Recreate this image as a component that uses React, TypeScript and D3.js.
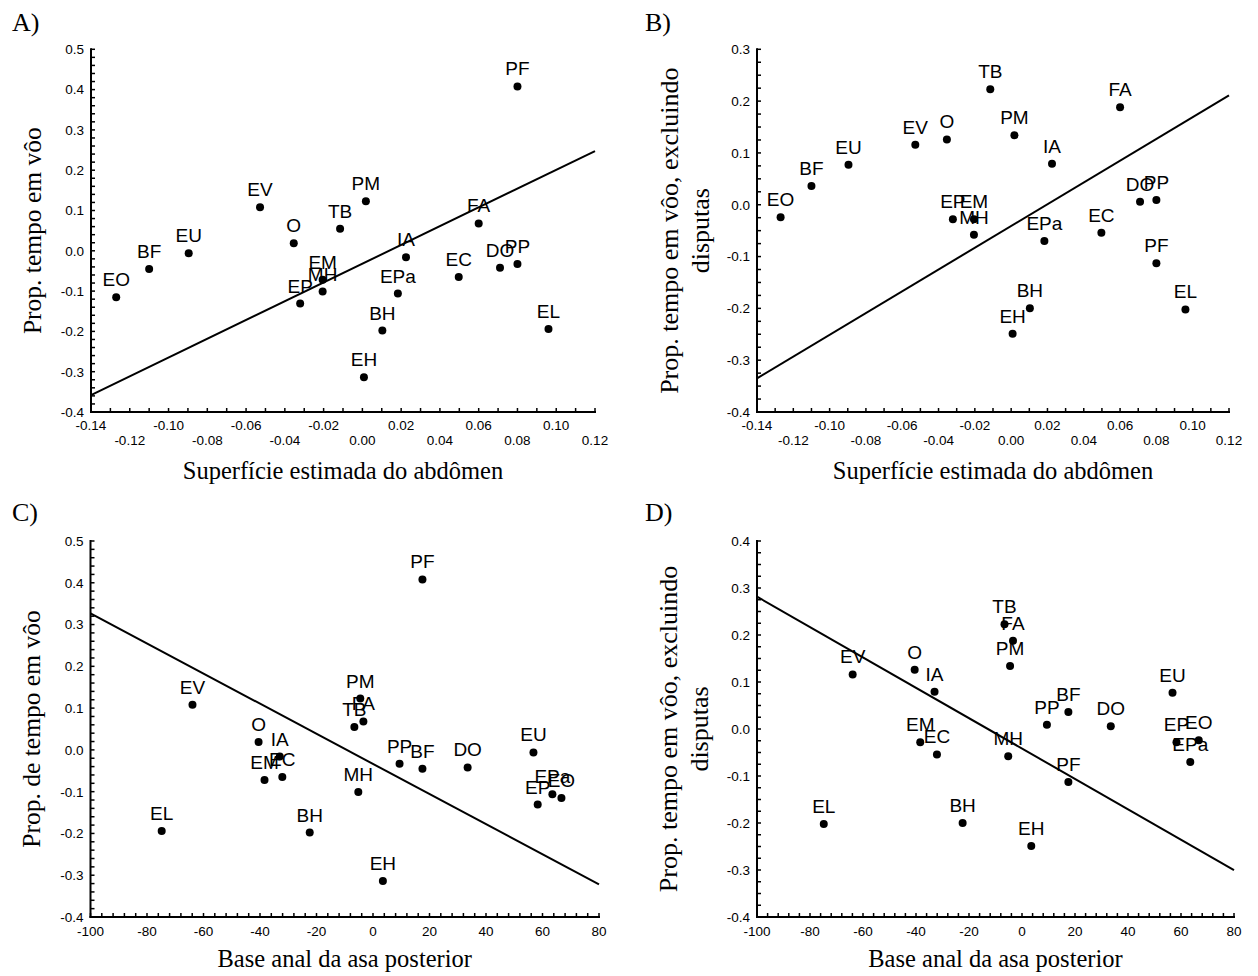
import React from 'react';
import * as d3 from 'd3';

// ---------------- data ----------------
const species = ['EO', 'BF', 'EU', 'EV', 'O', 'EP', 'EM', 'MH', 'PF', 'PM', 'TB', 'IA', 'FA', 'EC', 'DO', 'PP', 'EPa', 'BH', 'EH', 'EL'];
// Superfície estimada do abdômen (x of A, B)
const abdomen = [-0.127, -0.110, -0.0896, -0.0528, -0.0354, -0.0321, -0.0205, -0.0205, 0.080, 0.0018, -0.0115, 0.0225, 0.060, 0.0497, 0.071, 0.080, 0.0183, 0.0103, 0.0008, 0.096];
// Base anal da asa posterior (x of C, D)
const analBase = [66.7, 17.5, 56.8, -63.9, -40.5, 58.3, -38.4, -5.2, 17.5, -4.5, -6.6, -33.0, -3.4, -32.1, 33.5, 9.4, 63.5, -22.4, 3.5, -74.8];
// Prop. tempo em vôo (y of A, C)
const propFlight = [-0.115, -0.045, -0.006, 0.108, 0.019, -0.131, -0.072, -0.101, 0.408, 0.123, 0.055, -0.016, 0.068, -0.065, -0.042, -0.033, -0.106, -0.198, -0.314, -0.194];
// Prop. tempo em vôo, excluindo disputas (y of B, D)
const propFlightExcl = [-0.024, 0.036, 0.077, 0.116, 0.126, -0.028, -0.028, -0.058, -0.113, 0.134, 0.223, 0.079, 0.188, -0.054, 0.006, 0.009, -0.070, -0.200, -0.249, -0.202];

// fitted regression lines (A, B, C, D)
const fitIntercept = [-0.032, -0.041, -0.0336, -0.0416];
const fitSlope = [2.329, 2.1, -0.003606, -0.003231];

// tick labels
const abdTicks = [-0.14, -0.12, -0.10, -0.08, -0.06, -0.04, -0.02, 0.0, 0.02, 0.04, 0.06, 0.08, 0.10, 0.12];
const analTicks = [-100, -80, -60, -40, -20, 0, 20, 40, 60, 80];
const yTicksAC = [-0.4, -0.3, -0.2, -0.1, 0.0, 0.1, 0.2, 0.3, 0.4, 0.5];
const yTicksB = [-0.4, -0.3, -0.2, -0.1, 0.0, 0.1, 0.2, 0.3];
const yTicksD = [-0.4, -0.3, -0.2, -0.1, 0.0, 0.1, 0.2, 0.3, 0.4];

const titleA = 'Superfície estimada do abdômen';
const titleC = 'Base anal da asa posterior';
const yTitle1 = ['Prop. tempo em vôo'];
const yTitle2 = ['Prop. tempo em vôo, excluindo', 'disputas'];
const yTitle3 = ['Prop. de tempo em vôo'];

const SANS = "Arial, 'Liberation Sans', sans-serif";
const SERIF = "'Times New Roman', 'Liberation Serif', serif";

type Cfg = {
  letter: string;
  letterX: number;
  letterY: number;
  xs: number[];
  ys: number[];
  xDomain: [number, number];
  xRange: [number, number];
  yDomain: [number, number];
  yRange: [number, number];
  xTicks: number[];
  xDec: number;
  xMinorStep: number;
  twoRows: boolean;
  yTicks: number[];
  yMinorStep: number;
  xTitle: string;
  xTitleY: number;
  yTitle: string[];
  yTitleX: number;
  fit: number;
};

function fmt(v: number, dec: number) {
  const r = Math.round(v * 1e6) / 1e6;
  return (r === 0 ? 0 : r).toFixed(dec);
}

function Panel({ c }: { c: Cfg }) {
  const x = d3.scaleLinear().domain(c.xDomain).range(c.xRange);
  const y = d3.scaleLinear().domain(c.yDomain).range(c.yRange);
  const x0 = c.xRange[0];
  const y0 = c.yRange[0];
  const nX = Math.round((c.xDomain[1] - c.xDomain[0]) / c.xMinorStep);
  const xMinor = d3.range(nX + 1).map((i) => c.xDomain[0] + i * c.xMinorStep);
  const nY = Math.round((c.yDomain[1] - c.yDomain[0]) / c.yMinorStep);
  const yMinor = d3.range(nY + 1).map((i) => c.yDomain[0] + i * c.yMinorStep);
  const line = d3.line<number>().x((d) => x(d)).y((d) => y(fitIntercept[c.fit] + fitSlope[c.fit] * d));
  const cx = (c.xRange[0] + c.xRange[1]) / 2;
  const cy = (c.yRange[0] + c.yRange[1]) / 2;
  return (
    <g>
      <text x={c.letterX} y={c.letterY} fontFamily={SERIF} fontSize={26} fill="#000">{c.letter}</text>
      {/* axes */}
      <line x1={x0} x2={x0} y1={c.yRange[1] - 1} y2={y0 + 1} stroke="#000" strokeWidth={2} />
      <line x1={x0 - 1} x2={c.xRange[1] + 1} y1={y0} y2={y0} stroke="#000" strokeWidth={2} />
      {xMinor.map((v, i) => (
        <line key={'xm' + i} x1={x(v)} x2={x(v)} y1={y0} y2={y0 - 4} stroke="#000" strokeWidth={1.5} />
      ))}
      {yMinor.map((v, i) => (
        <line key={'ym' + i} x1={x0} x2={x0 + 4} y1={y(v)} y2={y(v)} stroke="#000" strokeWidth={1.5} />
      ))}
      {c.xTicks.map((v, i) => (
        <text key={'xt' + i} x={x(v)} y={c.twoRows ? (i % 2 === 0 ? y0 + 18 : y0 + 33) : y0 + 19}
          textAnchor="middle" fontFamily={SANS} fontSize={13.5} fill="#000">{fmt(v, c.xDec)}</text>
      ))}
      {c.yTicks.map((v, i) => (
        <text key={'yt' + i} x={x0 - 7} y={y(v)} dy="0.36em" textAnchor="end"
          fontFamily={SANS} fontSize={13.5} fill="#000">{fmt(v, 1)}</text>
      ))}
      {/* regression line */}
      <path d={line(c.xDomain) || ''} fill="none" stroke="#000" strokeWidth={2} />
      {/* points */}
      {species.map((s, i) => (
        <circle key={'p' + i} cx={x(c.xs[i])} cy={y(c.ys[i])} r={4} fill="#000" />
      ))}
      {species.map((s, i) => (
        <text key={'l' + i} x={x(c.xs[i])} y={y(c.ys[i]) - 11} textAnchor="middle"
          fontFamily={SANS} fontSize={19} fill="#000">{s}</text>
      ))}
      {/* titles */}
      <text x={cx} y={c.xTitleY} textAnchor="middle" fontFamily={SERIF} fontSize={24.5} fill="#000">{c.xTitle}</text>
      {c.yTitle.map((t, i) => (
        <text key={'ytl' + i} transform="rotate(-90)" x={-cy} y={c.yTitleX + i * 31}
          textAnchor="middle" fontFamily={SERIF} fontSize={c.yTitle.length > 1 ? 26 : 25.5} fill="#000">{t}</text>
      ))}
    </g>
  );
}

const panels: Cfg[] = [
  {
    letter: 'A)', letterX: 12, letterY: 31, xs: abdomen, ys: propFlight,
    xDomain: [-0.14, 0.12], xRange: [91, 595], yDomain: [-0.4, 0.5], yRange: [412, 49.3],
    xTicks: abdTicks, xDec: 2, xMinorStep: 0.01, twoRows: true,
    yTicks: yTicksAC, yMinorStep: 0.02, xTitle: titleA, xTitleY: 479, yTitle: yTitle1, yTitleX: 41, fit: 0,
  },
  {
    letter: 'B)', letterX: 645, letterY: 31, xs: abdomen, ys: propFlightExcl,
    xDomain: [-0.14, 0.12], xRange: [757, 1229], yDomain: [-0.4, 0.3], yRange: [412, 49.3],
    xTicks: abdTicks, xDec: 2, xMinorStep: 0.01, twoRows: true,
    yTicks: yTicksB, yMinorStep: 0.025, xTitle: titleA, xTitleY: 479, yTitle: yTitle2, yTitleX: 678, fit: 1,
  },
  {
    letter: 'C)', letterX: 12, letterY: 521, xs: analBase, ys: propFlight,
    xDomain: [-100, 80], xRange: [90.5, 599], yDomain: [-0.4, 0.5], yRange: [917, 541],
    xTicks: analTicks, xDec: 0, xMinorStep: 4, twoRows: false,
    yTicks: yTicksAC, yMinorStep: 0.02, xTitle: titleC, xTitleY: 967, yTitle: yTitle3, yTitleX: 40, fit: 2,
  },
  {
    letter: 'D)', letterX: 645, letterY: 521, xs: analBase, ys: propFlightExcl,
    xDomain: [-100, 80], xRange: [757, 1234], yDomain: [-0.4, 0.4], yRange: [917, 541],
    xTicks: analTicks, xDec: 0, xMinorStep: 4, twoRows: false,
    yTicks: yTicksD, yMinorStep: 0.025, xTitle: titleC, xTitleY: 967, yTitle: yTitle2, yTitleX: 677, fit: 3,
  },
];

export default function App() {
  return (
    <svg width={1258} height={976} viewBox="0 0 1258 976"
      style={{ position: 'absolute', left: 0, top: 0, background: '#fff' }}>
      <rect x={0} y={0} width={1258} height={976} fill="#fff" />
      {panels.map((p, i) => (
        <Panel key={i} c={p} />
      ))}
    </svg>
  );
}
